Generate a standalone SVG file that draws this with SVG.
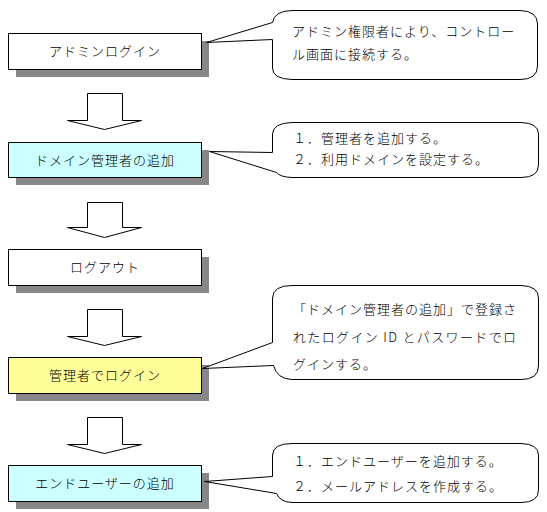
<svg xmlns="http://www.w3.org/2000/svg" width="547" height="512" viewBox="0 0 547 512">
<style>
.shadow{fill:#878787;stroke:none}
.box{stroke:#000;stroke-width:1}
.white{fill:#fff}
.cyan{fill:#ccffff}
.yellow{fill:#ffff99}
.lbl{font-family:"Noto Sans CJK JP","Noto Sans",sans-serif;font-size:13px;font-weight:300;letter-spacing:1px;fill:#000;text-anchor:middle}
.ctext{font-family:"Noto Sans CJK JP","Noto Sans",sans-serif;font-size:13px;font-weight:300;letter-spacing:1px;fill:#000}
.callout{fill:#fff;stroke:#000;stroke-width:1;stroke-linejoin:round}
.arrow{fill:#fff;stroke:#000;stroke-width:1}
</style>
<rect width="547" height="512" fill="#fff"/>
<g id="connectors">
<path class="arrow" d="M87.5,93.5 H122.5 V120.5 H141.5 L104.5,129.5 L67.5,120.5 H87.5 Z"/>
<path class="arrow" d="M87.5,202.5 H122.5 V227.5 H141.5 L104.5,237.5 L67.5,227.5 H87.5 Z"/>
<path class="arrow" d="M87.5,309.5 H122.5 V336.5 H141.5 L104.5,345.5 L67.5,336.5 H87.5 Z"/>
<path class="arrow" d="M87.5,417.5 H122.5 V444.5 H141.5 L104.5,453.5 L67.5,444.5 H87.5 Z"/>
</g>
<g id="node1">
<rect class="shadow" x="16" y="41" width="193" height="36"/>
<rect class="box white" x="8.5" y="33.5" width="193" height="36"/>
<text class="lbl" x="105" y="56">アドミンログイン</text>
</g>
<g id="node2">
<rect class="shadow" x="16" y="150" width="193" height="35"/>
<rect class="box cyan" x="8.5" y="142.5" width="193" height="35"/>
<text class="lbl" x="105" y="165">ドメイン管理者の追加</text>
</g>
<g id="node3">
<rect class="shadow" x="16" y="257" width="193" height="36"/>
<rect class="box white" x="8.5" y="249.5" width="193" height="36"/>
<text class="lbl" x="105" y="272">ログアウト</text>
</g>
<g id="node4">
<rect class="shadow" x="16" y="365" width="193" height="36"/>
<rect class="box yellow" x="8.5" y="357.5" width="193" height="36"/>
<text class="lbl" x="105" y="380">管理者でログイン</text>
</g>
<g id="node5">
<rect class="shadow" x="16" y="473" width="193" height="36"/>
<rect class="box cyan" x="8.5" y="465.5" width="193" height="36"/>
<text class="lbl" x="105" y="488">エンドユーザーの追加</text>
</g>
<g id="callout1">
<path class="callout" d="M206.5,42.5 L272.5,22.5 Q274,11 292,10.5 L520,10.5 Q537.5,11 537.5,24 L537.5,66 Q537.5,79.5 520,79.5 L292,79.5 Q272.5,79 272.5,68 L272.5,39.5 Z"/>
<text class="ctext" x="292" y="36">アドミン権限者により、コントロー</text>
<text class="ctext" x="292" y="59">ル画面に接続する。</text>
</g>
<g id="callout2">
<path class="callout" d="M209.5,151.5 L272.5,152.5 L272.5,134 Q273,123 292,122.5 L521,122.5 Q538.5,123 538.5,134 L538.5,165 Q538.5,177.5 521,177.5 L292,177.5 Q280,177 276.5,172.5 Z"/>
<text class="ctext" x="293" y="143">１．管理者を追加する。</text>
<text class="ctext" x="293" y="164">２．利用ドメインを設定する。</text>
</g>
<g id="callout3">
<path class="callout" d="M202.5,368.5 L272.5,342.5 L272.5,298 Q273,285.5 292,285.5 L521,285.5 Q538.5,286 538.5,298 L538.5,366 Q538.5,379.5 521,379.5 L292,379.5 Q277,379 273.5,365.5 Z"/>
<text class="ctext" x="293" y="314">「ドメイン管理者の追加」で登録さ</text>
<text class="ctext" x="293" y="342" textLength="224" lengthAdjust="spacing">れたログイン ID とパスワードでロ</text>
<text class="ctext" x="293" y="369">グインする。</text>
</g>
<g id="callout4">
<path class="callout" d="M204.5,481.5 L272.5,476.5 L272.5,455 Q273,443.5 292,443.5 L521,443.5 Q538.5,444 538.5,455 L538.5,490 Q538.5,502.5 521,502.5 L292,502.5 Q280,502 276.5,493.5 Z"/>
<text class="ctext" x="293" y="466">１．エンドユーザーを追加する。</text>
<text class="ctext" x="293" y="491">２．メールアドレスを作成する。</text>
</g>
</svg>
